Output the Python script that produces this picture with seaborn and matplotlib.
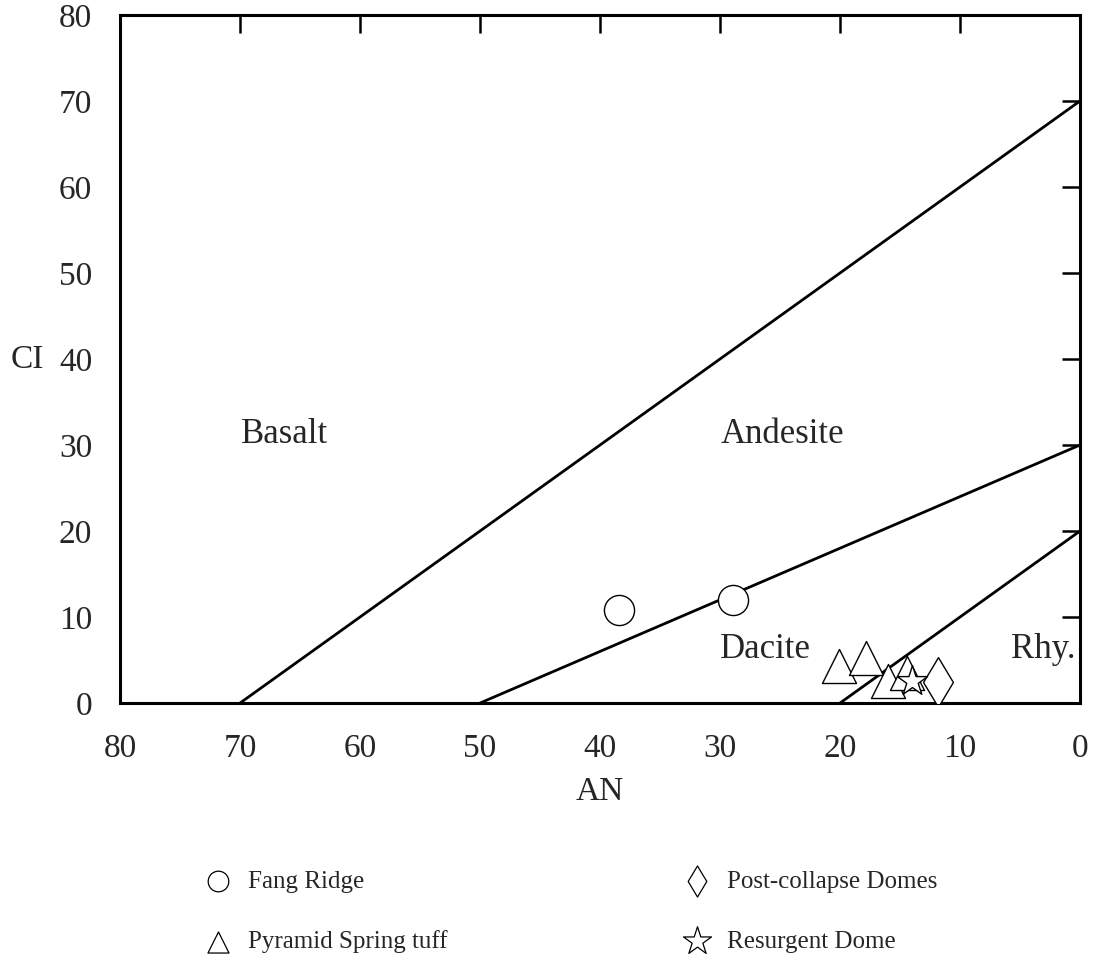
import pandas as pd
import numpy as np
import matplotlib
matplotlib.use('Agg')
import matplotlib.pyplot as plt
import seaborn as sns

# Data (AN vs CI classification diagram)
fang_an = [38.4, 28.9]
fang_ci = [10.8, 12.0]
pyramid_an = [20.1, 17.8, 16.0, 14.4]
pyramid_ci = [4.3, 5.2, 2.6, 3.5]
post_an = [11.8]
post_ci = [2.5]
resurgent_an = [14.0]
resurgent_ci = [2.6]

# Field boundaries: (AN at CI=0, CI at AN=0)
boundary_an0 = [70, 50, 20]
boundary_ci0 = [70, 30, 20]

field_names = ['Basalt', 'Andesite', 'Dacite', 'Rhy.']
field_an = [66.3, 24.8, 26.2, 3.1]
field_ci = [31.2, 31.2, 6.2, 6.2]

x_ticks = [80, 70, 60, 50, 40, 30, 20, 10, 0]
y_ticks = [0, 10, 20, 30, 40, 50, 60, 70, 80]

sns.set_style('white')
plt.rcParams['font.family'] = ['Liberation Serif', 'DejaVu Serif']

fig = plt.figure(figsize=(10.96, 9.72), dpi=100)
ax = fig.add_axes([0.1095, 0.2767, 0.8759, 0.7079])

# Boundary lines
for a0, c0 in zip(boundary_an0, boundary_ci0):
    seg = pd.DataFrame({'AN': [a0, 0], 'CI': [0, c0]})
    sns.lineplot(data=seg, x='AN', y='CI', color='black', linewidth=2.0, ax=ax, sort=False)

# Samples
grupos = [
    ('Fang Ridge', fang_an, fang_ci, 'o', 470),
    ('Pyramid Spring tuff', pyramid_an, pyramid_ci, '^', 600),
    ('Post-collapse Domes', post_an, post_ci, 'd', 640),
    ('Resurgent Dome', resurgent_an, resurgent_ci, '*', 520),
]
for nombre, xs, ys, mk, s in grupos:
    df = pd.DataFrame({'AN': xs, 'CI': ys})
    sns.scatterplot(data=df, x='AN', y='CI', marker=mk, s=s, facecolor='white',
                    edgecolor='black', linewidth=1.0, label=nombre, ax=ax, zorder=3)

for nombre, a, c in zip(field_names, field_an, field_ci):
    ax.text(a, c, nombre, fontsize=25, ha='center', va='center')

ax.set_xlim(80, 0)
ax.set_ylim(0, 80)
ax.set_xticks(x_ticks)
ax.set_yticks(y_ticks)
ax.set_xlabel('')
ax.set_ylabel('')
ax.tick_params(direction='in', length=13, width=1.8, top=True, right=True,
               labelsize=24, color='black')
ax.tick_params(axis='x', pad=22)
ax.tick_params(axis='y', pad=20)
for sp in ax.spines.values():
    sp.set_linewidth(2.2)
    sp.set_color('black')

fig.text(600 / 1096, 1 - 792 / 972, 'AN', fontsize=24, ha='center', va='center')
fig.text(27 / 1096, 1 - 360 / 972, 'CI', fontsize=24, ha='center', va='center')

# Legend in two columns below the plot
handles, labels = ax.get_legend_handles_labels()
leg = ax.legend(handles, labels, ncol=2, frameon=False, loc='upper left',
                bbox_to_anchor=(170 / 1096, 1 - 848 / 972), bbox_transform=fig.transFigure,
                fontsize=18, columnspacing=9.0, labelspacing=1.5, handletextpad=0.2)
tamanos = [220, 230, 250, 450]
for h, t in zip(leg.legend_handles, tamanos):
    h.set_sizes([t])
    h.set_linewidth(0.9)

fig.savefig('out.png', dpi=100)
